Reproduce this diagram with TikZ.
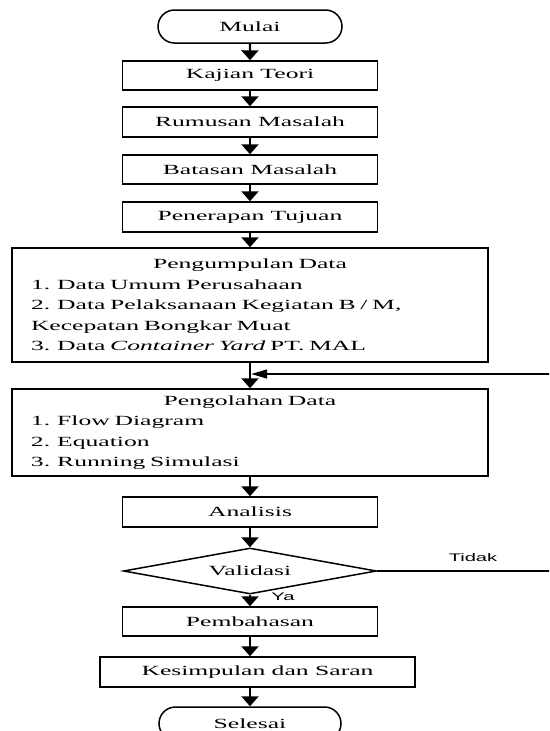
\documentclass[tikz,border=0pt]{standalone}
\usepackage{fontspec}
\setmainfont{Liberation Serif}[FakeStretch=1.83]
\setsansfont{Liberation Sans}[FakeStretch=1.83]
\usetikzlibrary{arrows.meta,shapes.geometric,shapes.misc}

\begin{document}
\begin{tikzpicture}[x=1pt,y=-1pt,
    box/.style={draw,line width=1.5pt,rectangle,minimum width=255pt,minimum height=29pt,inner sep=0pt,font=\fontsize{14}{17}\selectfont},
    term/.style={draw,line width=1.5pt,rounded rectangle,minimum width=184pt,minimum height=33pt,inner sep=0pt,font=\fontsize{14}{17}\selectfont},
    bigbox/.style={draw,line width=1.5pt,rectangle,text width=438pt,inner xsep=19pt,inner ysep=0pt,align=left,font=\fontsize{14}{20.5}\selectfont},
    flow/.style={line width=2.4pt,-{Triangle[width=17pt,length=10pt]}},
    back/.style={line width=1.5pt},
    lbl/.style={font=\sffamily\fontsize{11}{13}\selectfont,inner sep=0pt}]
    \useasboundingbox (0,0) rectangle (549,731);
    \clip (0,0) rectangle (549,731);
    \node[term] (mulai) at (250,26.5) {Mulai};
    \node[box] (kajian) at (250,75.5) {Kajian Teori};
    \node[box,minimum height=30pt] (rumusan) at (250,122) {Rumusan Masalah};
    \node[box] (batasan) at (250,169.5) {Batasan Masalah};
    \node[box,minimum height=30pt] (tujuan) at (250,217) {Penerapan Tujuan};
    \node[bigbox,minimum height=114pt] (kumpul) at (250,305) {\makebox[438pt]{Pengumpulan Data}\\
        1. Data Umum Perusahaan\\
        2. Data Pelaksanaan Kegiatan B / M,\\
        Kecepatan Bongkar Muat\\
        3. Data \textit{Container Yard} PT. MAL};
    \node[bigbox,minimum height=87pt] (olah) at (250,432.5) {\makebox[438pt]{Pengolahan Data}\\
        1. Flow Diagram\\
        2. Equation\\
        3. Running Simulasi};
    \node[box,minimum height=30pt] (analisis) at (250,512) {Analisis};
    \node[diamond,draw,line width=1.5pt,aspect=5.5,minimum width=253pt,minimum height=46pt,inner sep=0pt,font=\fontsize{14}{17}\selectfont] (valid) at (250,571) {Validasi};
    \node[box] (bahas) at (250,621.5) {Pembahasan};
    \node[box,minimum width=315pt,minimum height=30pt] (simpul) at (257.5,672) {Kesimpulan dan Saran};
    \node[term,minimum width=182pt] (selesai) at (250,723.5) {Selesai};
    \node[lbl] (ya) at (283,597) {Ya};
    \node[lbl] (tidak) at (473,558) {Tidak};
    \foreach \a/\b in {mulai/kajian,kajian/rumusan,rumusan/batasan,batasan/tujuan,
        tujuan/kumpul,kumpul/olah,olah/analisis,analisis/valid,valid/bahas}
        \draw[flow] (\a) -- (\b);
    \draw[flow] (bahas.south) -- (bahas.south |- simpul.north);
    \draw[flow] (simpul.south -| selesai.north) -- (selesai.north);
    \coordinate (kanan) at (560,571);
    \coordinate (masuk) at (250,374);
    \draw[back,-{Triangle[width=9pt,length=16pt]},shorten >=1.2pt] (valid.east) -- (kanan) |- (masuk);
\end{tikzpicture}
\end{document}
